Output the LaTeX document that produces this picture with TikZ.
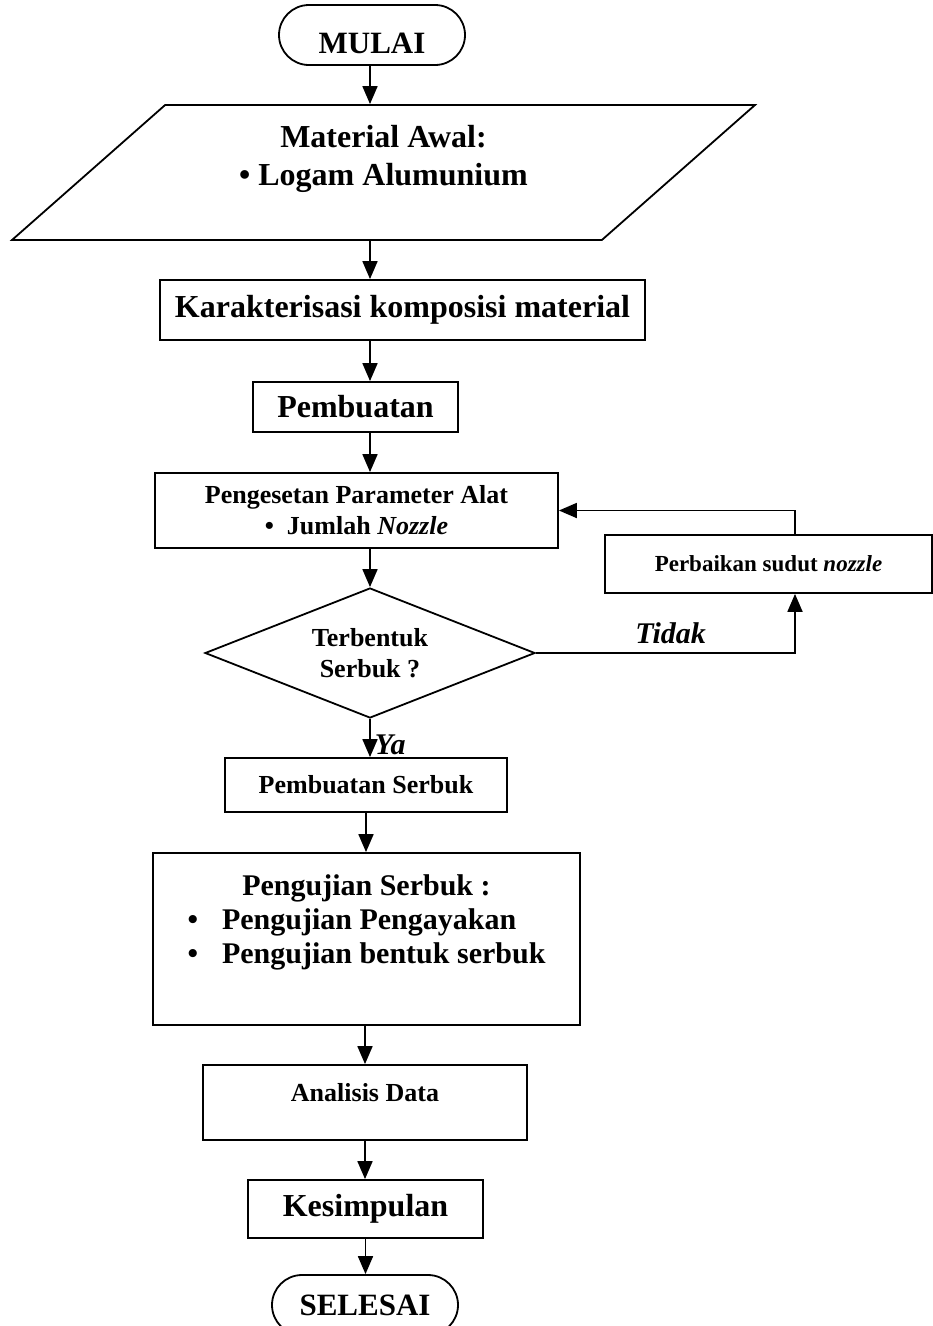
\documentclass[tikz,border=0pt]{standalone}
\usepackage{fontspec}
\setmainfont{Liberation Serif}
\usetikzlibrary{shapes.geometric,arrows.meta}

\begin{document}
\begin{tikzpicture}[x=1pt,y=1pt,line width=1.8pt,
    proses/.style={draw,rectangle},
    terminal/.style={draw,rectangle,rounded corners=30pt,minimum width=186pt,minimum height=60pt,
      font=\bfseries\fontsize{31}{36}\selectfont},
    alir/.style={-{Triangle[length=18pt,width=15pt]}},
    besar/.style={font=\bfseries\fontsize{32}{38}\selectfont},
    sedang/.style={font=\bfseries\fontsize{26}{31}\selectfont}]
    \tikzstyle{every node}+=[inner sep=0pt]
    \useasboundingbox (0,0) rectangle (933,-1326);
    \node[terminal,text height=36.5pt,text depth=0pt] (mulai) at (372,-35) {MULAI};
    \node[draw,trapezium,trapezium left angle=41.4,trapezium right angle=138.6,
      trapezium stretches body,minimum width=743pt,
      text height=42pt,text depth=93pt,besar] (matawal) at (383.5,-172.5)
      {\begin{tabular}[t]{@{}c@{}}Material Awal:\\ \textbullet{} Logam Alumunium\end{tabular}};
    \node[proses,besar,minimum width=485pt,minimum height=60pt] (kar) at (402.5,-310) {Karakterisasi komposisi material};
    \node[proses,besar,minimum width=205pt,minimum height=50pt] (pemb) at (355.5,-407) {Pembuatan};
    \node[proses,sedang,minimum width=403pt,minimum height=75pt,align=center] (seting) at (356.5,-510.5)
      {Pengesetan Parameter Alat\\ \textbullet\ \ Jumlah \textit{Nozzle}};
    \node[draw,diamond,sedang,aspect=2.54,minimum width=330pt,minimum height=130pt,align=center] (cek) at (370,-653)
      {Terbentuk\\Serbuk ?};
    \node[proses,font=\bfseries\fontsize{23}{28}\selectfont,minimum width=327pt,minimum height=58pt] (perb) at (768.5,-564)
      {Perbaikan sudut \textit{nozzle}};
    \node[proses,sedang,minimum width=282pt,minimum height=54pt] (serbuk) at (366,-785) {Pembuatan Serbuk};
    \node[proses,font=\bfseries\fontsize{30}{34}\selectfont,minimum width=427pt,text height=42pt,text depth=130pt] (uji) at (366.5,-939)
      {\begin{tabular}[t]{@{}c@{\hspace{24pt}}l@{}}\multicolumn{2}{c}{Pengujian Serbuk :}\\
       \textbullet & Pengujian Pengayakan\\ \textbullet & Pengujian bentuk serbuk\end{tabular}};
    \node[proses,sedang,minimum width=324pt,minimum height=75pt,text depth=21pt] (analisis) at (365,-1102.5) {Analisis Data};
    \node[proses,besar,minimum width=235pt,minimum height=58pt] (simpul) at (365.5,-1209) {Kesimpulan};
    \node[terminal] (selesai) at (365,-1305) {SELESAI};
    \draw[alir] (mulai.south -| cek) -- (cek |- matawal.north);
    \draw[alir] (cek |- matawal.south) -- (cek |- kar.north);
    \draw[alir] (cek |- kar.south) -- (cek |- pemb.north);
    \draw[alir] (cek |- pemb.south) -- (cek |- seting.north);
    \draw[alir] (cek |- seting.south) -- (cek.north);
    \draw[alir] (cek.south) -- (cek.south |- serbuk.north)
      node[pos=0.68,right=4pt,font=\bfseries\itshape\fontsize{30}{34}\selectfont] (ya) {Ya};
    \draw[alir] (cek.east) -| ([xshift=26.5pt]perb.south)
      node[pos=0.26,above=8pt,font=\bfseries\itshape\fontsize{30}{34}\selectfont] (tidak) {Tidak};
    \draw[alir] ([xshift=26.5pt]perb.north) |- (seting.east);
    \draw[alir] (serbuk.south) -- (serbuk.south |- uji.north);
    \draw[alir] (uji.south -| analisis) -- (analisis.north);
    \draw[alir] (analisis.south) -- (analisis.south |- simpul.north);
    \draw[alir] (simpul.south) -- (simpul.south |- selesai.north);
\end{tikzpicture}
\end{document}
